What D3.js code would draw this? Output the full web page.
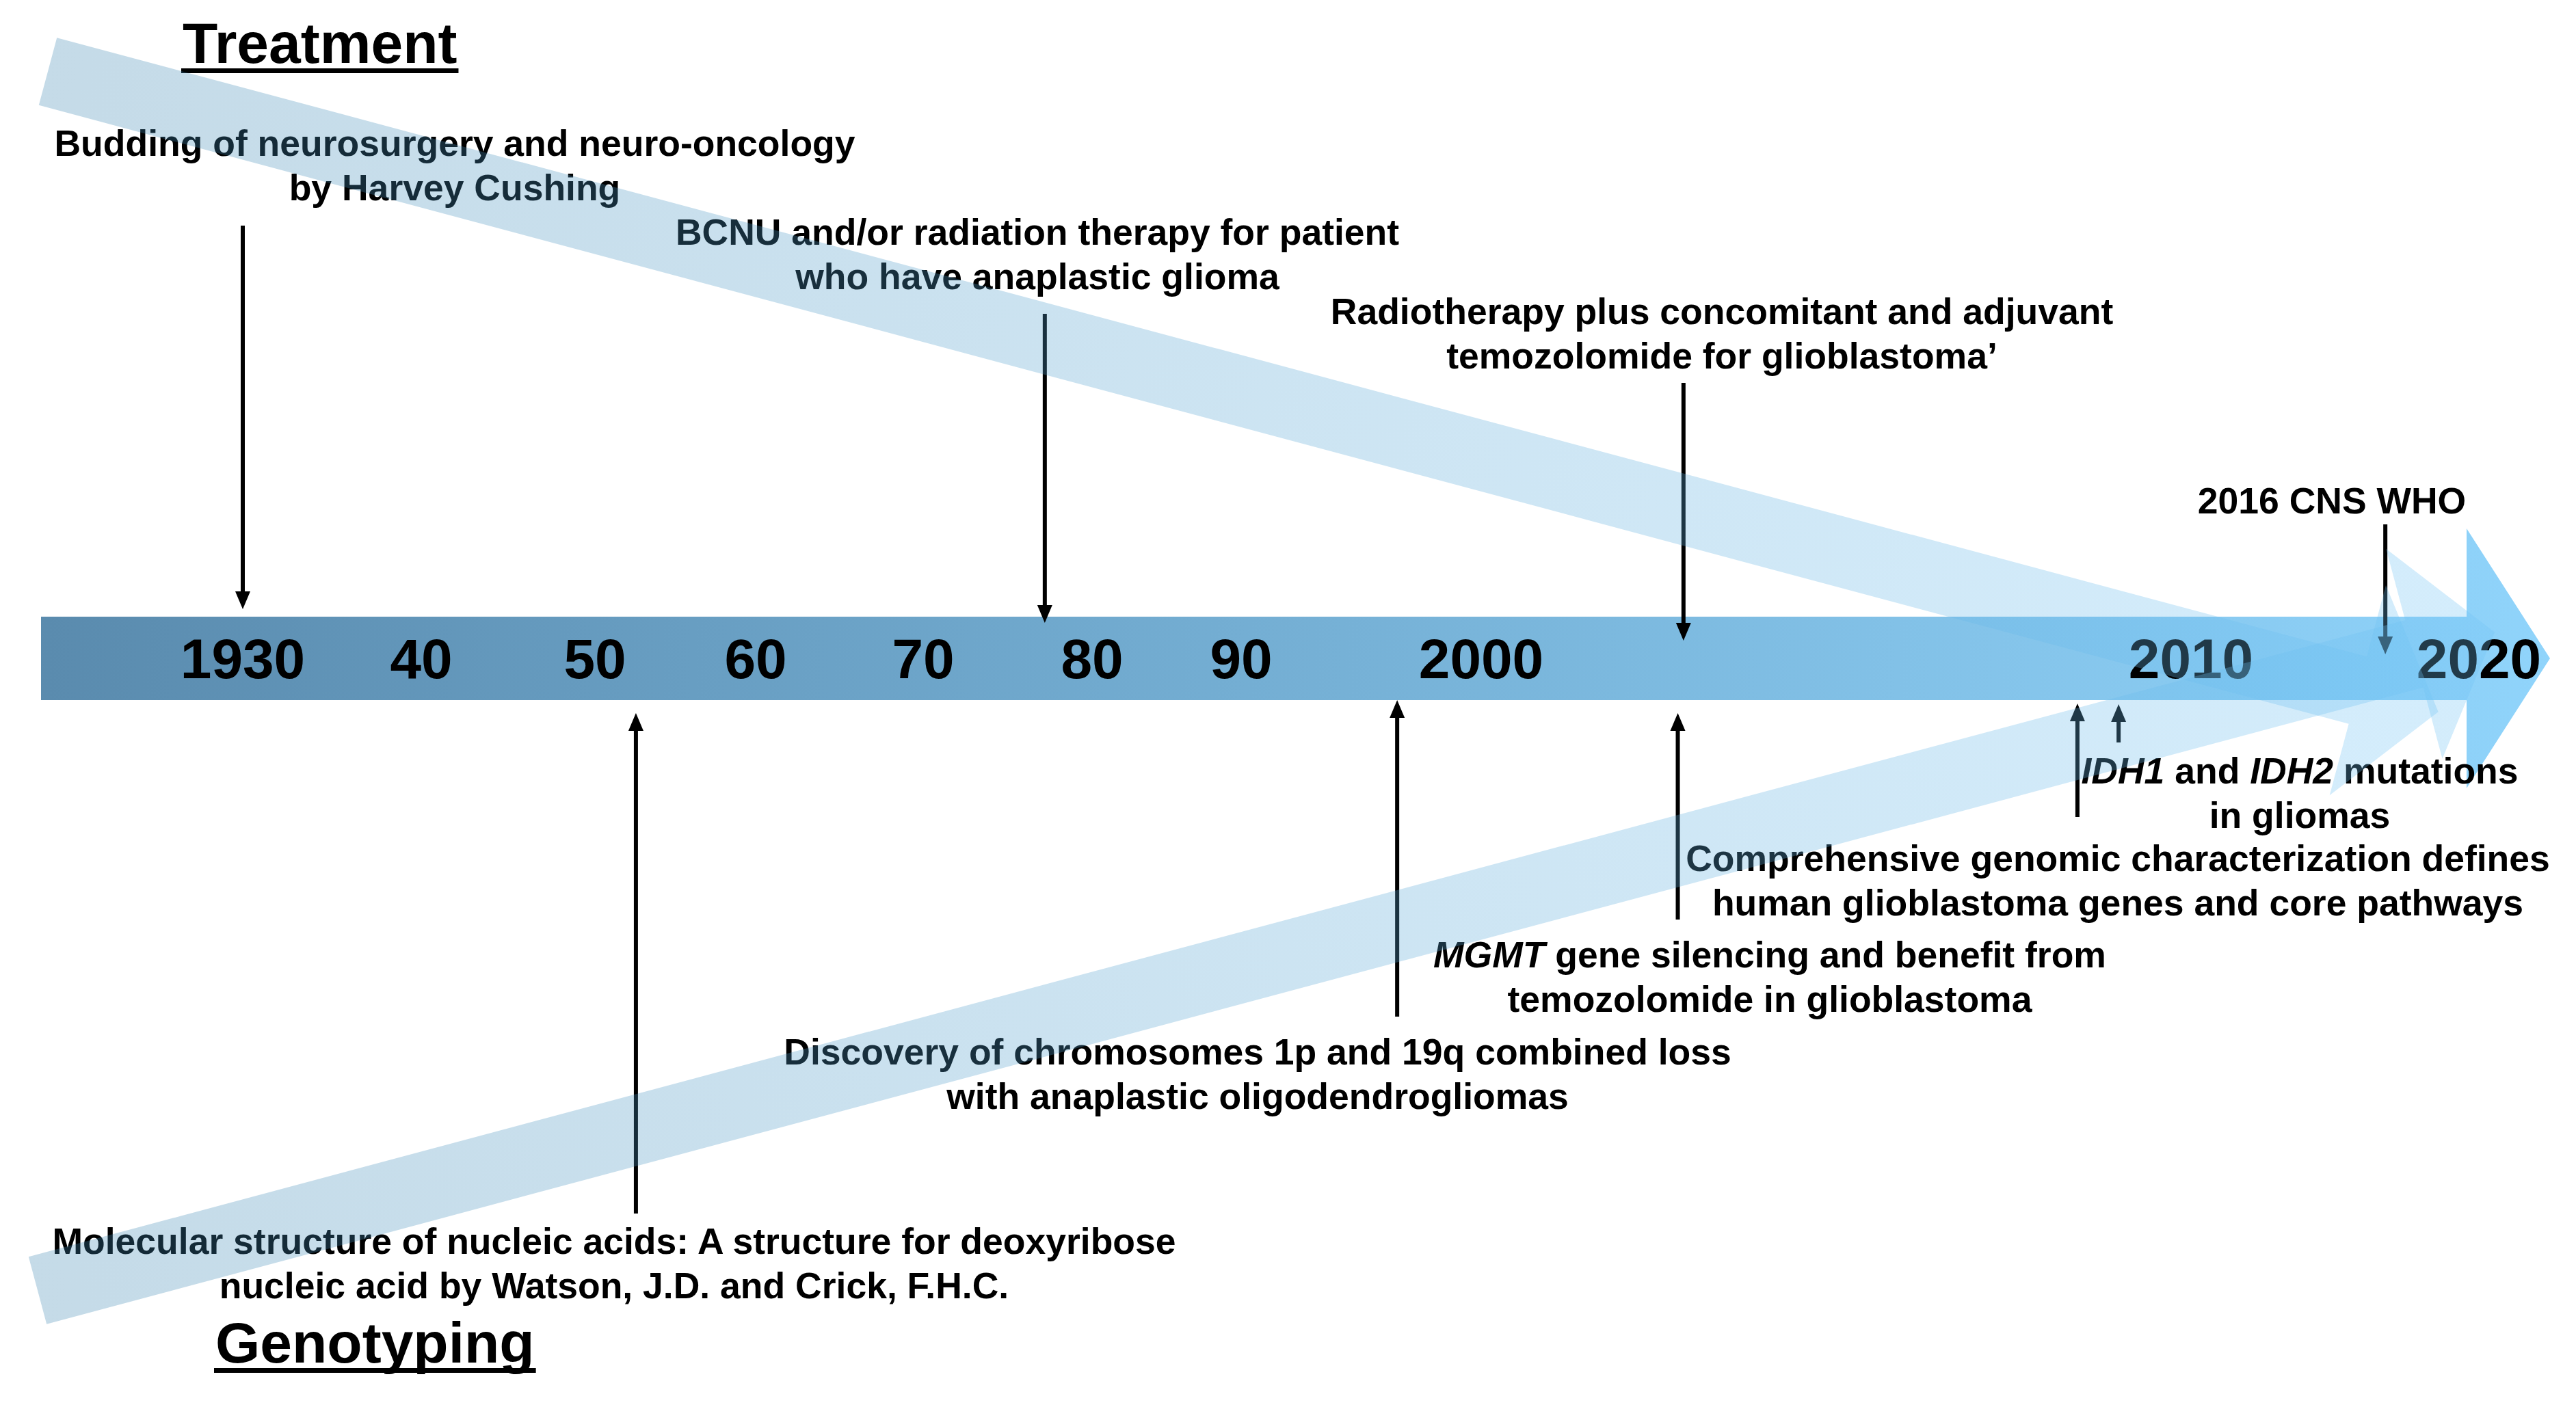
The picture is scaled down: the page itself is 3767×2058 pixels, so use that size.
<!DOCTYPE html>
<html><head><meta charset="utf-8">
<script src="https://cdn.jsdelivr.net/npm/d3@7"></script>
<style>html,body{margin:0;padding:0;background:#fff;overflow:hidden}</style>
</head><body>
<script>
// ---------------- data ----------------
const tickYears  = [1930, 1940, 1950, 1960, 1970, 1980, 1990, 2000, 2010, 2020];
const tickLabels = ["1930", "40", "50", "60", "70", "80", "90", "2000", "2010", "2020"];
const sectionTitles = ["Treatment", "Genotyping"];
const eventTexts = [
  ["Budding of neurosurgery and neuro-oncology", "by Harvey Cushing"],
  ["BCNU and/or radiation therapy for patient", "who have anaplastic glioma"],
  ["Radiotherapy plus concomitant and adjuvant", "temozolomide for glioblastoma\u2019"],
  ["2016 CNS WHO"],
  ["Molecular structure of nucleic acids: A structure for deoxyribose", "nucleic acid by Watson, J.D. and Crick, F.H.C."],
  ["Discovery of chromosomes 1p and 19q combined loss", "with anaplastic oligodendrogliomas"],
  ["*MGMT* gene silencing and benefit from", "temozolomide in glioblastoma"],
  ["Comprehensive genomic characterization defines", "human glioblastoma genes and core pathways"],
  ["*IDH1* and *IDH2* mutations", "in gliomas"]
];
// position of each event marker on the (uneven) time axis
const eventAxisYear = [1930, 1977.2, 2002.85, 2016.75, 1952.55, 1996.5, 2002.77, 2008.4, 2008.98];
const eventSide = ["top", "top", "top", "top", "bottom", "bottom", "bottom", "bottom", "bottom"];

// ---------------- layout ----------------
const W = 3767, H = 2058;
const FONT = "'Liberation Sans', Arial, Helvetica, sans-serif";
const tickPixel = [355, 616, 870, 1105, 1350, 1597, 1815, 2166, 3204, 3625];
const x = d3.scaleLinear().domain(tickYears).range(tickPixel);

// label anchor (centre x, first baseline), arrow tail y and arrow tip y
const eventLayout = [
  {lx: 665,  ly: 228,  tail: 330,  tip: 891},
  {lx: 1517, ly: 358,  tail: 459,  tip: 911},
  {lx: 2518, ly: 474,  tail: 560,  tip: 937},
  {lx: 3410, ly: 751,  tail: 767,  tip: 957},
  {lx: 898,  ly: 1834, tail: 1775, tip: 1043},
  {lx: 1839, ly: 1557, tail: 1487, tip: 1024},
  {lx: 2588, ly: 1415, tail: 1345, tip: 1043},
  {lx: 3097, ly: 1274, tail: 1195, tip: 1029},
  {lx: 3363, ly: 1146, tail: 1086, tip: 1030}
];
const lineGap = 65;

const svg = d3.select("body").append("svg")
  .attr("width", W).attr("height", H)
  .attr("viewBox", `0 0 ${W} ${H}`)
  .style("display", "block");
const defs = svg.append("defs");

// ---- main timeline arrow ----
const mainG = defs.append("linearGradient").attr("id", "mainGrad")
  .attr("gradientUnits", "userSpaceOnUse")
  .attr("x1", 60).attr("x2", 3729).attr("y1", 0).attr("y2", 0);
mainG.append("stop").attr("offset", 0).attr("stop-color", "#5a8bae");
mainG.append("stop").attr("offset", 1).attr("stop-color", "#90d4fb");

const axisY = 963, shaftHalf = 61, headHalf = 190, headLen = 122;
const xStart = 60, xTip = 3729, xHead = xTip - headLen;
svg.append("path")
  .attr("d", d3.line()([
    [xStart, axisY - shaftHalf], [xHead, axisY - shaftHalf], [xHead, axisY - headHalf],
    [xTip, axisY], [xHead, axisY + headHalf], [xHead, axisY + shaftHalf], [xStart, axisY + shaftHalf]
  ]) + "Z")
  .attr("fill", "url(#mainGrad)");

// ---- year labels ----
svg.append("g").selectAll("text").data(tickYears).join("text")
  .attr("x", d => x(d)).attr("y", 992)
  .attr("text-anchor", "middle")
  .attr("font-family", FONT).attr("font-weight", "bold").attr("font-size", 82)
  .attr("fill", "#000")
  .text((d, i) => tickLabels[i]);

// ---- section titles ----
const titlePos = [{x: 267, y: 92}, {x: 315, y: 1993}];
sectionTitles.forEach((t, i) => {
  const tx = svg.append("text")
    .attr("x", titlePos[i].x).attr("y", titlePos[i].y)
    .attr("font-family", FONT).attr("font-weight", "bold").attr("font-size", 84)
    .attr("fill", "#000").text(t);
  const w = tx.node().getComputedTextLength();
  svg.append("rect").attr("x", titlePos[i].x - 2).attr("y", titlePos[i].y + 8)
    .attr("width", w + 4).attr("height", 7).attr("fill", "#000");
});

// ---- event labels ----
function addRich(textSel, str) {
  const parts = str.split("*");
  parts.forEach((p, k) => {
    if (!p) return;
    textSel.append("tspan").attr("font-style", k % 2 ? "italic" : "normal").text(p);
  });
}
const evG = svg.append("g");
eventTexts.forEach((lines, i) => {
  const L = eventLayout[i];
  lines.forEach((ln, j) => {
    const t = evG.append("text")
      .attr("x", L.lx).attr("y", L.ly + j * lineGap)
      .attr("text-anchor", "middle")
      .attr("font-family", FONT).attr("font-weight", "bold").attr("font-size", 53.5)
      .attr("fill", "#000");
    addRich(t, ln);
  });
});

// ---- event arrows ----
const ahW = 11, ahL = 26;
eventAxisYear.forEach((yr, i) => {
  const L = eventLayout[i];
  const px = x(yr);
  const dir = eventSide[i] === "top" ? 1 : -1;   // 1 = pointing down
  const base = L.tip - dir * ahL;
  evG.append("line")
    .attr("x1", px).attr("x2", px).attr("y1", L.tail).attr("y2", base)
    .attr("stroke", "#000").attr("stroke-width", 6);
  evG.append("path")
    .attr("d", d3.line()([[px - ahW, base], [px, L.tip], [px + ahW, base]]) + "Z")
    .attr("fill", "#000");
});

// ---- translucent diagonal arrows (drawn on top) ----
const bands = [
  {id: "treatGrad", cx: 70, cy: 104.5, angle: 15,  len: 3619},
  {id: "genoGrad",  cx: 55, cy: 1887.5, angle: -15, len: 3720}
];
const bShaft = 51, bHead = 159, bHeadLen = 122;
bands.forEach(b => {
  const g = svg.append("g")
    .attr("transform", `translate(${b.cx},${b.cy}) rotate(${b.angle})`);
  const gr = defs.append("linearGradient").attr("id", b.id)
    .attr("gradientUnits", "userSpaceOnUse")
    .attr("x1", 0).attr("x2", b.len).attr("y1", 0).attr("y2", 0);
  gr.append("stop").attr("offset", 0).attr("stop-color", "#3e87b2");
  gr.append("stop").attr("offset", 1).attr("stop-color", "#70c3f5");
  const hb = b.len - bHeadLen;
  g.append("path")
    .attr("d", d3.line()([
      [0, -bShaft], [hb, -bShaft], [hb, -bHead], [b.len, 0],
      [hb, bHead], [hb, bShaft], [0, bShaft]
    ]) + "Z")
    .attr("fill", `url(#${b.id})`)
    .attr("fill-opacity", 0.3);
});
</script>
</body></html>
